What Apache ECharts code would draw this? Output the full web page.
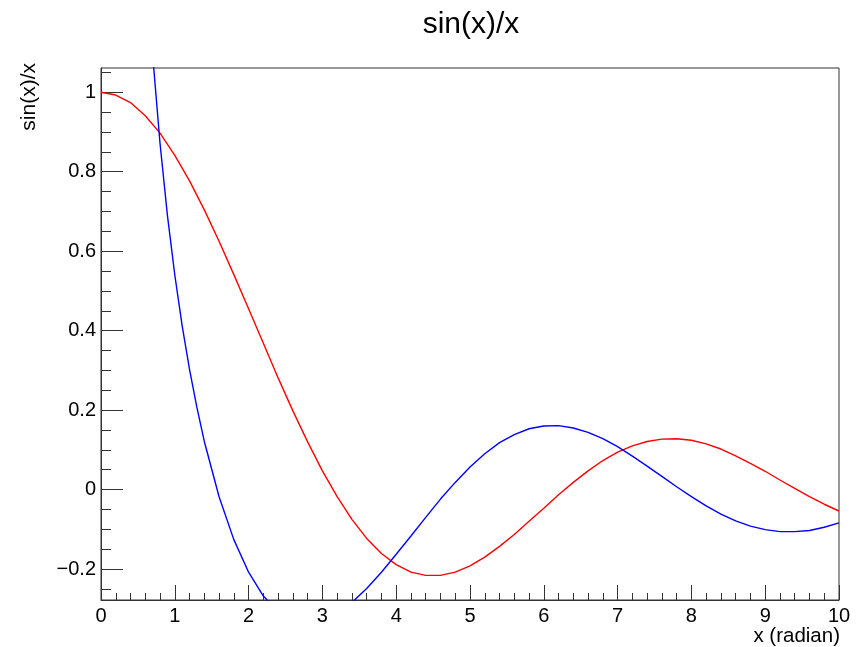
<!DOCTYPE html>
<html>
<head>
<meta charset="utf-8">
<title>sin(x)/x</title>
<script src="https://cdn.jsdelivr.net/npm/echarts@6/dist/echarts.min.js"></script>
<style>
html,body{margin:0;padding:0;background:#fff;}
#main{width:865px;height:647px;}
</style>
</head>
<body>
<div id="main"></div>
<script>
// sample positions (radian)
var xs = [0,0.2,0.4,0.6,0.8,1.0,1.2,1.4,1.6,1.8,2.0,2.2,2.4,2.6,2.8,3.0,3.2,3.4,3.6,3.8,
	4.0,4.2,4.4,4.6,4.8,5.0,5.2,5.4,5.6,5.8,6.0,6.2,6.4,6.6,6.8,7.0,7.2,7.4,7.6,7.8,
	8.0,8.2,8.4,8.6,8.8,9.0,9.2,9.4,9.6,9.8,10.0];
// red curve
var redVals = [1.000,0.993,0.974,0.941,0.897,0.841,0.777,0.704,0.625,0.541,0.455,0.368,0.281,0.198,0.120,0.047,-0.018,-0.075,-0.123,-0.161,
	-0.189,-0.208,-0.216,-0.216,-0.208,-0.192,-0.170,-0.143,-0.113,-0.080,-0.047,-0.013,0.018,0.047,0.073,0.094,0.110,0.121,0.127,0.128,
	0.124,0.115,0.102,0.085,0.066,0.046,0.024,0.003,-0.018,-0.037,-0.054];
// blue curve (starts above the frame, leaves it below and comes back)
var blueXs = [0.6,0.7,0.8,0.9,1.0,1.1,1.2,1.3,1.4,1.6,1.8,2.0,2.2,2.4,2.6,2.8,3.0,3.2,3.4,3.6,3.8,
	4.0,4.2,4.4,4.6,4.8,5.0,5.2,5.4,5.6,5.8,6.0,6.2,6.4,6.6,6.8,7.0,7.2,7.4,7.6,7.8,
	8.0,8.2,8.4,8.6,8.8,9.0,9.2,9.4,9.6,9.8,10.0];
var blueVals = [1.376,1.093,0.871,0.690,0.540,0.412,0.302,0.206,0.121,-0.018,-0.126,-0.208,-0.268,-0.307,-0.330,-0.337,-0.330,-0.312,-0.284,-0.249,-0.208,
	-0.163,-0.117,-0.070,-0.024,0.018,0.057,0.090,0.118,0.138,0.153,0.160,0.161,0.155,0.144,0.128,0.108,0.084,0.059,0.033,0.007,
	-0.018,-0.041,-0.062,-0.079,-0.092,-0.101,-0.106,-0.106,-0.103,-0.095,-0.084];
// y tick labels
var yMajor = [-0.2,0,0.2,0.4,0.6,0.8,1.0];
var yMinor = [-0.25,-0.2,-0.15,-0.1,-0.05,0,0.05,0.1,0.15,0.2,0.25,0.3,0.35,0.4,0.45,0.5,0.55,0.6,0.65,0.7,0.75,0.8,0.85,0.9,0.95,1.0,1.05];
var yMin = -0.278, yMax = 1.061;

function pairs(a, b){
	var out = [];
	for (var i = 0; i < a.length; i++) out.push([a[i], b[i]]);
	return out;
}

var font = 'Liberation Sans, Arial, Helvetica, sans-serif';
var frame = '#333';

var myChart = echarts.init(document.getElementById('main'));
var option = {
	animation: false,
	backgroundColor: '#fff',
	grid: {
		show: true,
		left: 101,
		right: 26,
		top: 68,
		bottom: 47,
		borderColor: frame,
		borderWidth: 1,
		backgroundColor: 'transparent'
	},
	xAxis: {
		type: 'value',
		min: 0,
		max: 10,
		interval: 1,
		axisLine: {onZero: false, lineStyle: {color: frame, width: 1}},
		axisTick: {inside: true, length: 15, lineStyle: {color: frame}},
		minorTick: {show: true, splitNumber: 5, length: 7, lineStyle: {color: frame}},
		splitLine: {show: false},
		axisLabel: {color: '#000', fontFamily: font, fontSize: 20, margin: 6}
	},
	yAxis: [{
		type: 'value',
		min: yMin,
		max: yMax,
		axisLine: {show: true, onZero: false, lineStyle: {color: frame, width: 1}},
		axisTick: {show: true, inside: true, length: 22, customValues: yMajor, lineStyle: {color: frame}},
		splitLine: {show: false},
		axisLabel: {
			color: '#000', fontFamily: font, fontSize: 20, margin: 5,
			customValues: yMajor,
			formatter: function(v){
				var s = String(+v.toFixed(1));
				return v < 0 ? '\u2212' + s.slice(1) : s;
			}
		}
	}, {
		type: 'value',
		min: yMin,
		max: yMax,
		position: 'left',
		axisLine: {show: false},
		axisTick: {show: true, inside: true, length: 10, customValues: yMinor, lineStyle: {color: frame}},
		axisLabel: {show: false},
		splitLine: {show: false}
	}],
	graphic: [{
		type: 'text',
		x: 471, y: 25,
		style: {text: 'sin(x)/x', font: '30px ' + font, fill: '#000', textAlign: 'center', textVerticalAlign: 'middle'}
	}, {
		type: 'text',
		x: 29, y: 63,
		rotation: Math.PI / 2,
		style: {text: 'sin(x)/x', font: '21px ' + font, fill: '#000', textAlign: 'right', textVerticalAlign: 'middle'}
	}, {
		type: 'text',
		x: 840, y: 636,
		style: {text: 'x (radian)', font: '20.5px ' + font, fill: '#000', textAlign: 'right', textVerticalAlign: 'middle'}
	}],
	series: [{
		name: 'sin(x)/x',
		type: 'line',
		data: pairs(xs, redVals),
		showSymbol: false,
		lineStyle: {color: '#ff0000', width: 1.4}
	}, {
		name: 'blue',
		type: 'line',
		data: pairs(blueXs, blueVals),
		showSymbol: false,
		lineStyle: {color: '#0000ff', width: 1.4}
	}]
};
myChart.setOption(option);
window.addEventListener('resize', function(){
	myChart.resize();
});
</script>
</body>
</html>
